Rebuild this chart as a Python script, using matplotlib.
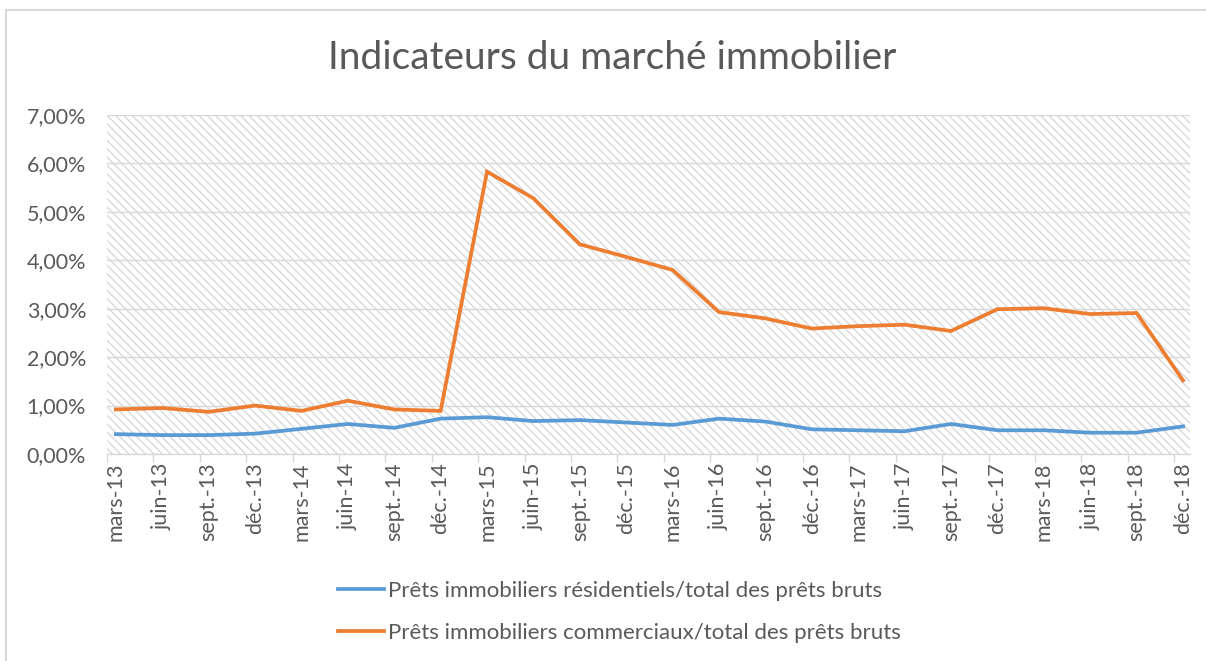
import matplotlib
matplotlib.use("Agg")
import matplotlib.pyplot as plt
from matplotlib.patches import Rectangle
from matplotlib.ticker import FuncFormatter, FixedLocator
from matplotlib.lines import Line2D

plt.rcParams['font.family'] = ['Lato', 'DejaVu Sans']
plt.rcParams['hatch.linewidth'] = 1.0
plt.rcParams['hatch.color'] = '#d9d9d9'

# quarters
periods = ["mars-13", "juin-13", "sept.-13", "déc.-13",
           "mars-14", "juin-14", "sept.-14", "déc.-14",
           "mars-15", "juin-15", "sept.-15", "déc.-15",
           "mars-16", "juin-16", "sept.-16", "déc.-16",
           "mars-17", "juin-17", "sept.-17", "déc.-17",
           "mars-18", "juin-18", "sept.-18", "déc.-18"]

# ratios in percent
residentiels = [0.41, 0.39, 0.39, 0.42, 0.52, 0.62, 0.54, 0.73,
                0.76, 0.68, 0.70, 0.65, 0.60, 0.73, 0.67, 0.51,
                0.49, 0.47, 0.62, 0.49, 0.49, 0.44, 0.44, 0.57]
commerciaux = [0.92, 0.95, 0.87, 1.00, 0.89, 1.10, 0.92, 0.89,
               5.83, 5.28, 4.33, 4.07, 3.80, 2.93, 2.80, 2.59,
               2.64, 2.67, 2.54, 2.99, 3.01, 2.89, 2.91, 1.52]

label_res = "Prêts immobiliers résidentiels/total des prêts bruts"
label_com = "Prêts immobiliers commerciaux/total des prêts bruts"
title = "Indicateurs du marché immobilier"

txt = '#595959'
grid = '#d9d9d9'

fig = plt.figure(figsize=(12.06, 6.61), dpi=100)
ax = fig.add_axes([107/1206, 1-454/661, (1190-107)/1206, (454-115)/661])

# hatched plot area
bg = Rectangle((0, 0), 1, 1, transform=ax.transAxes, facecolor='white',
               edgecolor='#d9d9d9', hatch='\\\\\\\\', linewidth=0, zorder=0)
ax.add_patch(bg)
ax.patch.set_visible(False)

x = list(range(len(periods)))
ax.plot(x, residentiels, color='#5B9BD5', lw=2.7, solid_joinstyle='miter', zorder=3)
ax.plot(x, commerciaux, color='#ED7D31', lw=2.7, solid_joinstyle='miter', zorder=3)

ax.set_xlim(-0.19, 23.15)
ax.set_ylim(0, 7)

ax.set_yticks([0, 1, 2, 3, 4, 5, 6, 7])
ax.yaxis.set_major_formatter(FuncFormatter(lambda v, p: "{:.2f}%".format(v).replace('.', ',')))
ax.grid(axis='y', color=grid, lw=1.0, zorder=1)
ax.set_axisbelow(True)

ax.set_xticks(x)
ax.set_xticklabels(periods, rotation=90)
ax.xaxis.set_minor_locator(FixedLocator([i - 0.19 for i in x]))
ax.tick_params(axis='x', which='major', length=0, pad=6, labelsize=15.5, labelcolor=txt)
ax.tick_params(axis='x', which='minor', length=6, width=1, color=grid)
ax.tick_params(axis='y', length=0, pad=15, labelsize=15.5, labelcolor=txt)

for s in ['top', 'right', 'left']:
    ax.spines[s].set_visible(False)
ax.spines['bottom'].set_color(grid)
ax.spines['bottom'].set_linewidth(1.0)

fig.text(612/1206, 1-58/661, title, ha='center', va='center', fontsize=28, color=txt)

handles = [Line2D([], [], color='#5B9BD5', lw=2.7),
           Line2D([], [], color='#ED7D31', lw=2.7)]
fig.legend(handles, [label_res, label_com], loc='center',
           bbox_to_anchor=(619/1206, 1-612/661), frameon=False,
           fontsize=16, labelcolor=txt, handlelength=2.1, handletextpad=0.15,
           labelspacing=0.98)

# outer chart border (left and top visible)
fig.add_artist(Line2D([6/1206, 6/1206], [0, 1-10/661], color=grid, lw=1.5))
fig.add_artist(Line2D([6/1206, 1], [1-10/661, 1-10/661], color=grid, lw=1.5))

fig.savefig("out.png", dpi=100)
